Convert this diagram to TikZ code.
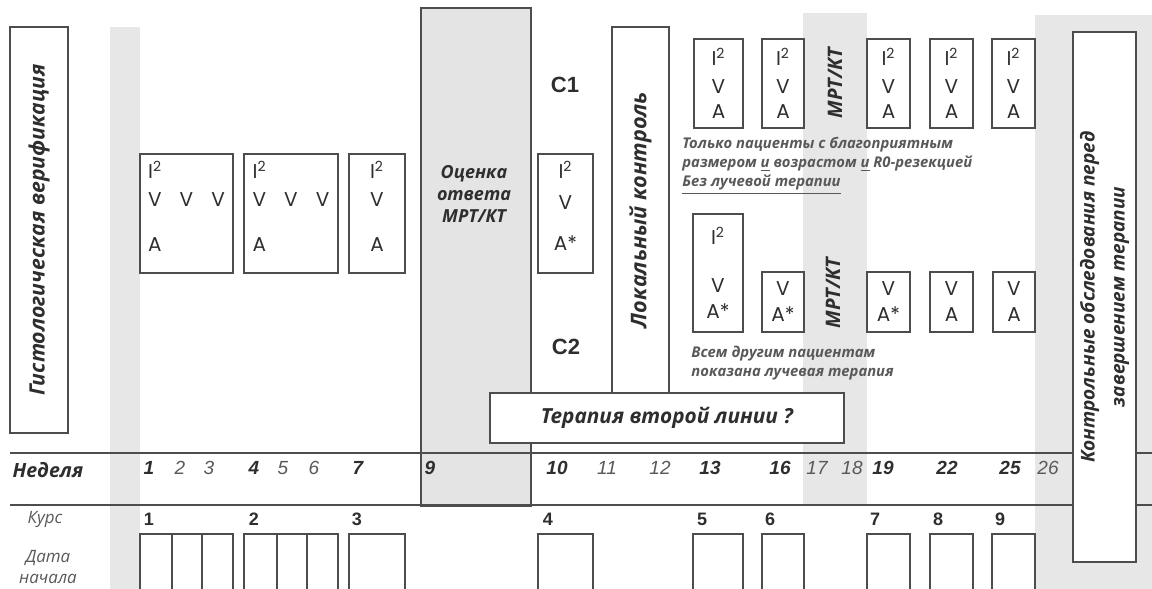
\documentclass[tikz,border=0pt]{standalone}
\usepackage{fontspec}
\setmainfont{Open Sans}
\newfontfamily\lettfont{Poppins}
\newfontfamily\numfont{Liberation Sans}
\usepackage{tikz}
\usetikzlibrary{positioning}
\definecolor{linegray}{HTML}{4D4D4D}
\definecolor{bandgray}{HTML}{E7E7E7}
\definecolor{evalgray}{HTML}{E4E4E4}
\definecolor{inkgray} {HTML}{2E2E2E}
\definecolor{softgray}{HTML}{595959}

\begin{document}
\begin{tikzpicture}[
  x=0.5pt, y=-0.5pt,
  box/.style  ={draw=linegray,line width=1pt,fill=white,inner sep=0pt,anchor=north west,
                text=inkgray,font=\lettfont\fontsize{10}{12}\selectfont},
  ubox/.style ={box,align=center,minimum width=21.5pt,minimum height=44.5pt},
  lbox/.style ={box,align=center,minimum width=21.5pt,minimum height=30pt},
  dbox/.style ={box,minimum height=34pt},
  vbox/.style ={draw=linegray,line width=1pt,fill=white,rotate=90,align=center,
                text=inkgray,font=\bfseries\itshape\fontsize{9.5}{12}\selectfont},
  mrt/.style  ={rotate=90,text=inkgray,font=\bfseries\itshape\fontsize{10}{12}\selectfont},
  note/.style ={anchor=north west,inner sep=0pt,align=left,text=softgray,
                font=\bfseries\itshape\fontsize{7.4}{9.5}\selectfont},
  wk/.style   ={text=inkgray,font=\numfont\bfseries\itshape\fontsize{9.5}{11}\selectfont},
  wkl/.style  ={text=softgray,font=\numfont\itshape\fontsize{9.5}{11}\selectfont},
  crs/.style  ={text=inkgray,font=\numfont\bfseries\fontsize{9}{11}\selectfont},
  side/.style ={text=softgray,font=\itshape\fontsize{8.5}{10.5}\selectfont,align=center},
  hline/.style={draw=linegray,line width=1pt}
]
\useasboundingbox (0,0) rectangle (1152,589);
\clip (0,0) rectangle (1152,589);
\fill[white] (0,0) rectangle (1152,589);
%% gray week bands
\fill[bandgray] (110,27) rectangle (140,589);
\fill[bandgray] (803,13) rectangle (867,505);
\fill[bandgray] (1035,15) rectangle (1152,589);
%% week 9: response evaluation
\node[draw=linegray,line width=1pt,fill=evalgray,inner sep=0pt,anchor=north west,
      minimum width=55pt,minimum height=249pt] (eval) at (420,7) {};
\node[side,text=inkgray,font=\bfseries\itshape\fontsize{9}{11}\selectfont]
  (evaltxt) at (474,194) {Оценка\\ответа\\МРТ/КТ};
%% week row
\path[hline] (10,453) -- (1152,453);
\path[hline] (10,505) -- (1152,505);
%% side boxes
\node[vbox,minimum width=203pt,minimum height=29pt,
      font=\bfseries\itshape\fontsize{10.6}{12}\selectfont] (histo) at (39,230)
  {Гистологическая верификация};
\node[vbox,minimum width=183pt,minimum height=28.5pt,
      font=\bfseries\itshape\fontsize{10.8}{12}\selectfont] (local) at (640.5,210)
  {Локальный контроль};
\node[vbox,minimum width=265pt,minimum height=28.5pt] (final) at (1104.5,297)
  {Контрольные обследования перед\\[3pt]завершением терапии};
\node[vbox,rotate=-90,minimum width=177pt,minimum height=25pt,
      font=\bfseries\itshape\fontsize{10.4}{12}\selectfont] (second) at (667,418)
  {Терапия второй линии ?};
%% courses 1--4
\node[box,align=left,minimum width=46.5pt,minimum height=59.5pt,text depth=7pt] (w1) at (139,153)
  {I\textsuperscript{2}\\[2pt]V\hspace{9pt}V\hspace{9pt}V\\[10.5pt]A};
\node[box,align=left,minimum width=47pt,minimum height=59.5pt,text depth=7pt] (w4) at (243,153)
  {I\textsuperscript{2}\\[2pt]V\hspace{9pt}V\hspace{9pt}V\\[10.5pt]A};
\node[box,align=center,minimum width=28pt,minimum height=59.5pt,text depth=7pt] (w7) at (348,153)
  {I\textsuperscript{2}\\[2pt]V\\[10.5pt]A};
\node[box,align=center,minimum width=27.5pt,minimum height=59.5pt,text depth=8pt] (w10) at (537,153)
  {I\textsuperscript{2}\\[3.5pt]V\\[8.5pt]A*};
\node[crs,font=\numfont\bfseries\fontsize{11}{13}\selectfont] (c1lbl) at (565,85) {C1};
\node[crs,font=\numfont\bfseries\fontsize{11}{13}\selectfont] (c2lbl) at (566,347) {C2};
%% arm C1
\node[ubox,minimum width=24.5pt] (r13) at (693,38) {I\textsuperscript{2}\\[2pt]V\\[0.5pt]A};
\node[ubox,minimum width=21pt]   (r16) at (761,38) {I\textsuperscript{2}\\[2pt]V\\[0.5pt]A};
\node[ubox] (r19) at (866,38) {I\textsuperscript{2}\\[2pt]V\\[0.5pt]A};
\node[ubox] (r22) at (929,38) {I\textsuperscript{2}\\[2pt]V\\[0.5pt]A};
\node[ubox] (r25) at (991,38) {I\textsuperscript{2}\\[2pt]V\\[0.5pt]A};
\node[mrt] (mrt1) at (835,83) {МРТ/КТ};
\node[note] (note1) at (682,137)
  {Только пациенты с благоприятным\\
   размером \underline{и} возрастом \underline{и} R0-резекцией\\
   \underline{Без лучевой терапии}};
%% arm C2
\node[box,align=center,minimum width=25pt,minimum height=59pt,text depth=-3pt] (s13) at (692,213)
  {I\textsuperscript{2}\\[12pt]V\\[1pt]A*};
\node[lbox,minimum width=21pt] (s16) at (761,271) {V\\[1pt]A*};
\node[lbox] (s19) at (866,271) {V\\[1pt]A*};
\node[lbox] (s22) at (929,271) {V\\[1pt]A};
\node[lbox,minimum width=21pt] (s25) at (992,271) {V\\[1pt]A};
\node[mrt] (mrt2) at (833,293) {МРТ/КТ};
\node[note] (note2) at (691,346)
  {Всем другим пациентам\\показана лучевая терапия};
%% weeks
\node[inkgray,font=\bfseries\itshape\fontsize{9.8}{11}\selectfont] (week) at (48,470) {Неделя};
\node[wk] (n1) at (149,468) {1};   \node[wkl] (n2) at (180,468) {2};
\node[wkl] (n3) at (209,468) {3};  \node[wk] (n4) at (254,468) {4};
\node[wkl] (n5) at (283,468) {5};  \node[wkl] (n6) at (314,468) {6};
\node[wk] (n7) at (358,468) {7};   \node[wk] (n9) at (430,468) {9};
\node[wk] (n10) at (557,468) {10}; \node[wkl] (n11) at (607,468) {11};
\node[wkl] (n12) at (660,468) {12}; \node[wk] (n13) at (710,468) {13};
\node[wk] (n16) at (780,468) {16}; \node[wkl] (n17) at (817,468) {17};
\node[wkl] (n18) at (852,468) {18}; \node[wk] (n19) at (883,468) {19};
\node[wk] (n22) at (947,468) {22}; \node[wk] (n25) at (1010,468) {25};
\node[wkl] (n26) at (1048,468) {26};
%% courses and start dates
\node[side] (course) at (45,519) {Курс};
\node[side] (start) at (48,567) {Дата\\начала};
\node[crs] (k1) at (149,519) {1};  \node[crs] (k2) at (254,519) {2};
\node[crs] (k3) at (357,519) {3};  \node[crs] (k4) at (548,519) {4};
\node[crs] (k5) at (702,519) {5};  \node[crs] (k6) at (770,519) {6};
\node[crs] (k7) at (875,519) {7};  \node[crs] (k8) at (938,519) {8};
\node[crs] (k9) at (1000,519) {9};
\node[dbox,minimum width=16pt]   (d1)  at (139,533) {};
\node[dbox,minimum width=15pt]   (d2)  at (171,533) {};
\node[dbox,minimum width=15.5pt] (d3)  at (201,533) {};
\node[dbox,minimum width=16.5pt] (d4)  at (243,533) {};
\node[dbox,minimum width=15pt]   (d5)  at (276,533) {};
\node[dbox,minimum width=15.5pt] (d6)  at (306,533) {};
\node[dbox,minimum width=28pt]   (d7)  at (348,533) {};
\node[dbox,minimum width=27.5pt] (d10) at (537,533) {};
\node[dbox,minimum width=25pt]   (d13) at (692,533) {};
\node[dbox,minimum width=21pt]   (d16) at (761,533) {};
\node[dbox,minimum width=21.5pt] (d19) at (866,533) {};
\node[dbox,minimum width=21.5pt] (d22) at (929,533) {};
\node[dbox,minimum width=21.5pt] (d25) at (991,533) {};
\end{tikzpicture}
\end{document}
